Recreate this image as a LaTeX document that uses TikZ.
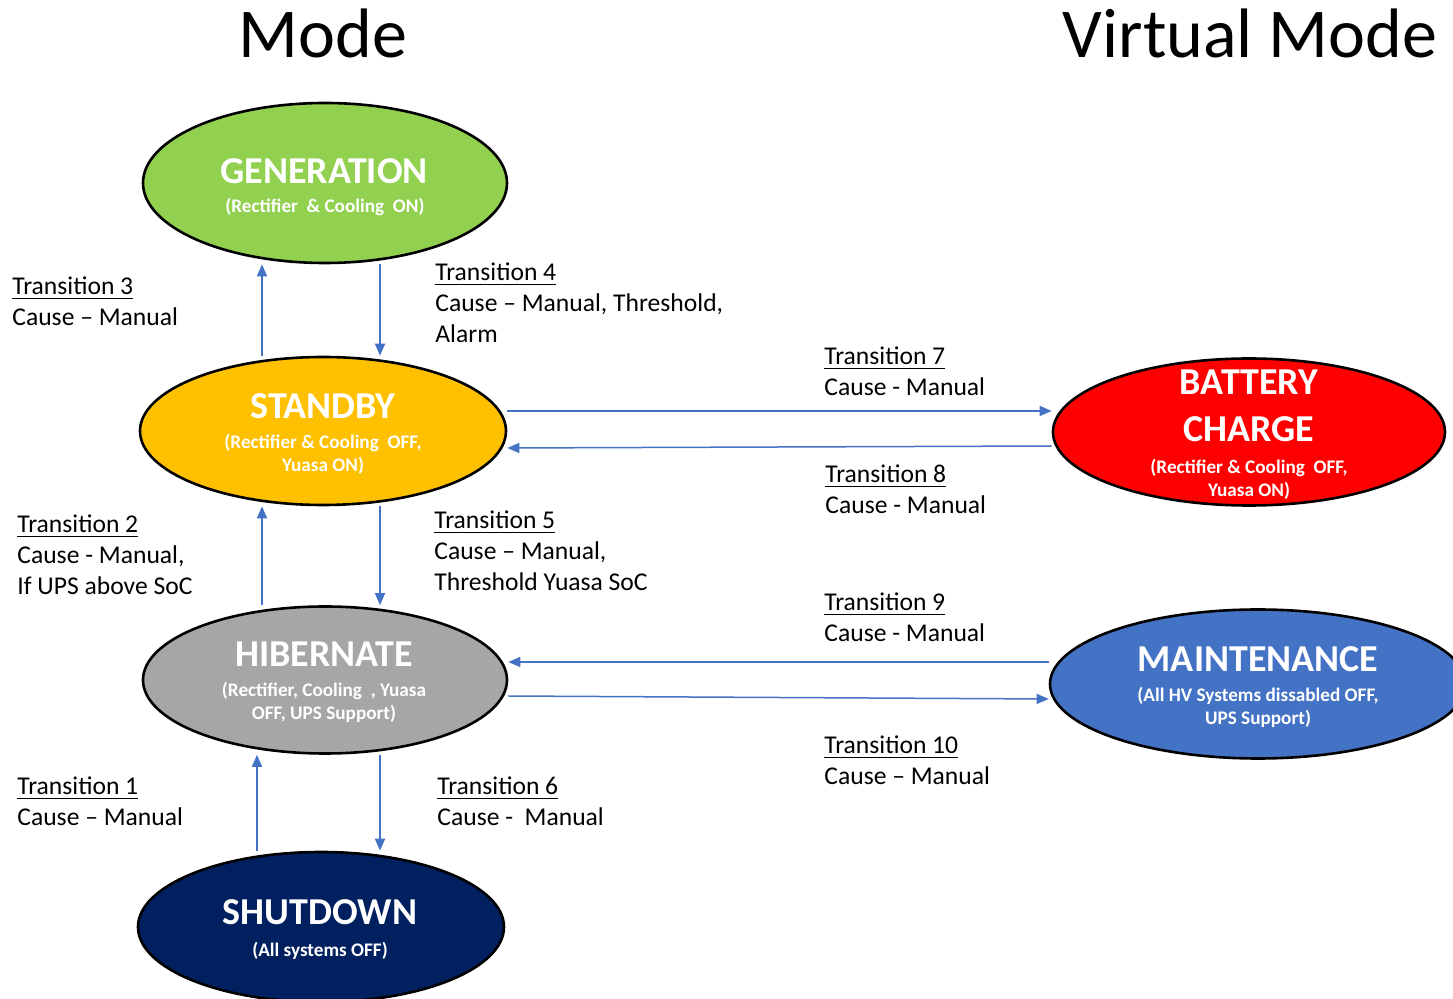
\documentclass[tikz,border=0pt]{standalone}
\usepackage{fontspec}
\setmainfont{Carlito}
\usetikzlibrary{arrows.meta,shapes.geometric,calc}
\definecolor{cgen}{HTML}{92D050}
\definecolor{cstby}{HTML}{FFC000}
\definecolor{cbatt}{HTML}{FF0000}
\definecolor{chib}{HTML}{A6A6A6}
\definecolor{cmaint}{HTML}{4472C4}
\definecolor{cshut}{HTML}{002060}
\definecolor{pfeil}{HTML}{4472C4}
\tikzset{
  modus/.style={ellipse,draw=black,line width=1.3pt,inner sep=0pt},
  titel/.style={white,anchor=base,align=center,inner sep=0pt,font=\bfseries\fontsize{19}{23.5}\selectfont},
  subt/.style={white,anchor=base,align=center,inner sep=0pt,font=\bfseries\fontsize{9.6}{11.5}\selectfont},
  kopf/.style={anchor=base,inner sep=0pt,font=\fontsize{35}{40}\selectfont},
  lab/.style={anchor=base west,align=left,inner sep=0pt,font=\fontsize{12.8}{15.5}\selectfont},
  arr/.style={-{Triangle[length=6pt,width=5pt]},pfeil,line width=0.75pt},
}
\begin{document}
\begin{tikzpicture}[x=0.5pt,y=-0.5pt]
  \useasboundingbox (0,0) rectangle (1453,999);
  % Ueberschriften
  \node[kopf] (hmode) at (323,58) {Mode};
  \node[kopf] (hvirt) at (1250,58) {Virtual Mode};
  % Zustaende
  \node[modus,fill=cgen,minimum width=182pt,minimum height=80pt] (gen) at (325,183) {};
  \node[modus,fill=cstby,minimum width=183pt,minimum height=74pt] (stb) at (323,431) {};
  \node[modus,fill=chib,minimum width=182pt,minimum height=73.5pt] (hib) at (325,680) {};
  \node[modus,fill=cshut,minimum width=183pt,minimum height=75pt] (shut) at (321,927) {};
  \node[modus,fill=cbatt,minimum width=196pt,minimum height=73.5pt] (bc) at (1249,432) {};
  \node[modus,fill=cmaint,minimum width=208pt,minimum height=74.5pt] (mnt) at (1258,684) {};
  % Beschriftung der Zustaende (base = letzte Zeile)
  \node[titel] (gent) at (324,184) {GENERATION};
  \node[subt] (gens) at (325,213) {(Rectifier\ \ \& Cooling\ \ ON)};
  \node[titel] (stbt) at (323,419) {STANDBY};
  \node[subt] (stbs) at (323,472) {(Rectifier \& Cooling\ \ OFF,\\Yuasa ON)};
  \node[titel] (bct) at (1249,442) {BATTERY\\CHARGE};
  \node[subt] (bcs) at (1249,497) {(Rectifier \& Cooling\ \ OFF,\\Yuasa ON)};
  \node[titel] (hibt) at (324,667) {HIBERNATE};
  \node[subt] (hibs) at (324,720) {(Rectifier, Cooling\ \ , Yuasa\\OFF, UPS Support)};
  \node[titel] (mntt) at (1258,672) {MAINTENANCE};
  \node[subt] (mnts) at (1258,725) {(All HV Systems dissabled OFF,\\UPS Support)};
  \node[titel] (shutt) at (320,925) {SHUTDOWN};
  \node[subt] (shuts) at (320,957) {(All systems OFF)};
  % Uebergaenge
  \coordinate (xl) at (262,0);
  \coordinate (xs) at (257,0);
  \coordinate (xr) at (380,0);
  \draw[arr] (stb.north -| xl) -- (gen.south -| xl);
  \draw[arr] (gen.south -| xr) -- (stb.north -| xr);
  \draw[arr] (hib.north -| xl) -- (stb.south -| xl);
  \draw[arr] (stb.south -| xr) -- (hib.north -| xr);
  \draw[arr] (shut.north -| xs) -- (hib.south -| xs);
  \draw[arr] (hib.south -| xr) -- (shut.north -| xr);
  \draw[arr] ($(stb.east)+(0,-20)$) -- ($(bc.west)+(0,-21)$);
  \draw[arr] ($(bc.west)+(0,14)$) -- ($(stb.east)+(0,17)$);
  \draw[arr] ($(mnt.west)+(0,-22)$) -- ($(hib.east)+(0,-18)$);
  \draw[arr] ($(hib.east)+(0,16)$) -- ($(mnt.west)+(0,15)$);
  % Texte der Uebergaenge (base = letzte Zeile)
  \node[lab] (t3) at (12,326) {\underline{Transition 3}\\Cause – Manual};
  \node[lab] (t4) at (435,343) {\underline{Transition 4}\\Cause – Manual, Threshold,\\Alarm};
  \node[lab] (t7) at (824,396) {\underline{Transition 7}\\Cause - Manual};
  \node[lab] (t8) at (825,514) {\underline{Transition 8}\\Cause - Manual};
  \node[lab] (t2) at (17,595) {\underline{Transition 2}\\Cause - Manual,\\If UPS above SoC};
  \node[lab] (t5) at (434,591) {\underline{Transition 5}\\Cause – Manual,\\Threshold Yuasa SoC};
  \node[lab] (t9) at (824,642) {\underline{Transition 9}\\Cause - Manual};
  \node[lab] (t10) at (824,785) {\underline{Transition 10}\\Cause – Manual};
  \node[lab] (t1) at (17,826) {\underline{Transition 1}\\Cause – Manual};
  \node[lab] (t6) at (437,826) {\underline{Transition 6}\\Cause -\ \ Manual};
\end{tikzpicture}
\end{document}
